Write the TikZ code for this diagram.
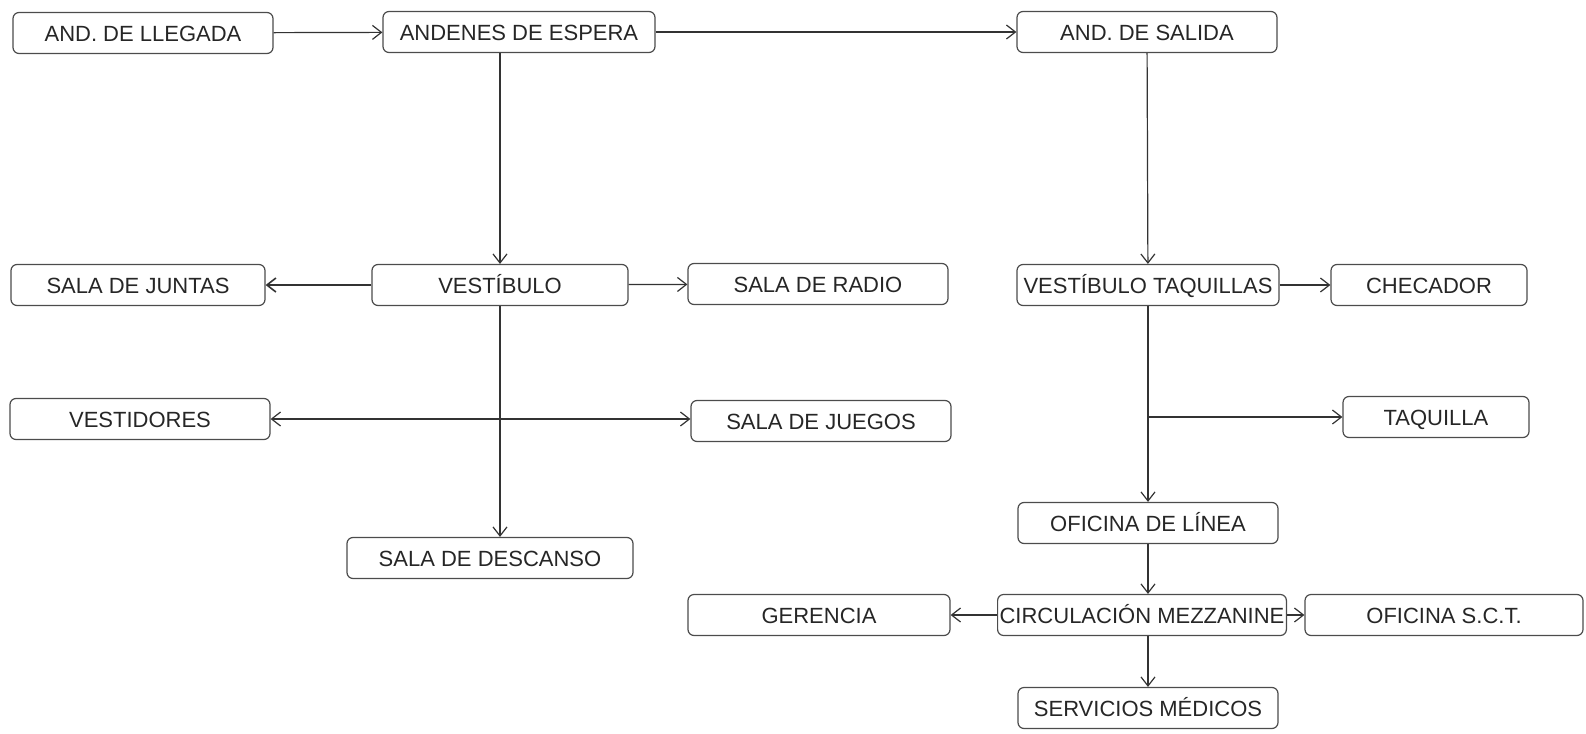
\documentclass[tikz,border=0pt]{standalone}
\usepackage{fontspec}
\setmainfont{Liberation Sans}
\usetikzlibrary{arrows.meta}
\tikzset{>={Straight Barb[length=4.5pt,width=7pt]}}
\tikzset{room/.style={draw=black!70, rounded corners=3pt, minimum width=130pt, minimum height=20.5pt, inner sep=1pt, text height=8pt, text depth=0pt, text=black!85, font=\fontsize{11}{13}\selectfont}}

\begin{document}
\begin{tikzpicture}[x=0.5pt, y=-0.5pt, line width=0.6pt, draw=black!80]
\useasboundingbox (0,0) rectangle (1586,734);
\node[room] (llegada) at (143,33) {AND. DE LLEGADA};
\node[room, minimum width=136pt] (andenes) at (519,32) {ANDENES DE ESPERA};
\node[room] (salida) at (1147,32) {AND. DE SALIDA};
\node[room, minimum width=127pt] (juntas) at (138,285) {SALA DE JUNTAS};
\node[room, minimum width=128pt] (vest) at (500,285) {VESTÍBULO};
\node[room] (radio) at (818,284) {SALA DE RADIO};
\node[room, minimum width=131pt] (vtaq) at (1148,285) {VESTÍBULO TAQUILLAS};
\node[room, minimum width=98pt] (checador) at (1429,285) {CHECADOR};
\node[room] (vestidores) at (140,419) {VESTIDORES};
\node[room] (juegos) at (821,421) {SALA DE JUEGOS};
\node[room, minimum width=93pt] (taquilla) at (1436,417) {TAQUILLA};
\node[room, minimum width=143pt] (descanso) at (490,558) {SALA DE DESCANSO};
\node[room] (oficina) at (1148,523) {OFICINA DE LÍNEA};
\node[room, minimum width=131pt] (gerencia) at (819,615) {GERENCIA};
\node[room, minimum width=141pt] (circ) at (1142,615) {CIRCULACIÓN MEZZANINE};
\node[room, minimum width=139pt] (sct) at (1444,615) {OFICINA S.C.T.};
\node[room] (medicos) at (1148,708) {SERVICIOS MÉDICOS};

% flujo de llegada y salida
\draw[->] (llegada) -- (andenes);
\draw[->] (andenes) -- (salida);
\draw[->] (andenes.south -| vest.north) -- (vest.north);
\draw[->] (salida) -- (vtaq);

% vestibulo
\draw[->, thick] (vest) -- (juntas);
\draw[->] (vest) -- (radio);
\draw[->] (vest.south) -- (vest.south |- descanso.north);
\draw[<->] (vestidores.east) -- (vestidores.east -| juegos.west);

% taquillas
\draw[->] (vtaq) -- (checador);
\draw[->] (vtaq) -- (oficina);
\coordinate (rama) at (vtaq.south |- taquilla.west);
\draw[->] (rama) -- (taquilla);
\draw[->] (oficina.south) -- (oficina.south |- circ.north);
\draw[->] (circ) -- (gerencia);
\draw[->] (circ) -- (sct);
\draw[->] (circ.south -| medicos.north) -- (medicos.north);
\end{tikzpicture}
\end{document}
